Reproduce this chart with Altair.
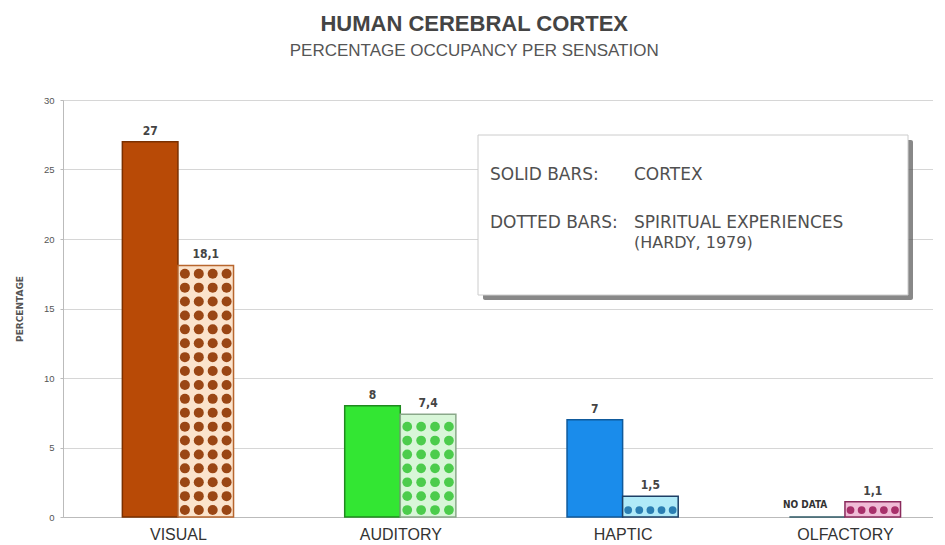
import altair as alt
import pandas as pd

# ---- data ----
categories = ["VISUAL", "AUDITORY", "HAPTIC", "OLFACTORY"]
cortex = [27, 8, 7, None]          # solid bars (None = no data)
spiritual = [18.1, 7.4, 1.5, 1.1]  # dotted bars (Hardy, 1979)
y_ticks = [0, 5, 10, 15, 20, 25, 30]

# ---- styles ----
solid_fill = ["#b84a06", "#33e633", "#1a8ceb", "#2f5a66"]
solid_stroke = ["#7a3000", "#1f8a1f", "#0f5a9c", "#2f5a66"]
dot_bg = ["#fbe3cc", "#d8f6d8", "#b0eaf8", "#f0bcd6"]
dot_fg = ["#9a4614", "#4ccc4c", "#2b7fb3", "#a8306a"]
dot_stroke = ["#b8662e", "#8aa88a", "#1d3f66", "#8a2a5c"]
dot_cols = [4, 4, 5, 5]
dot_size = [100, 95, 60, 60]
BW = 0.25  # bar width in category units


def fmt(v):
    if v is None:
        return "NO DATA"
    s = f"{v:g}"
    return s.replace(".", ",")


bars = []
for i, c in enumerate(categories):
    v = cortex[i]
    bars.append(dict(cat=c, x0=i - BW, x1=i, xm=i - BW / 2, v=0 if v is None else v,
                     zero=0, fill=solid_fill[i], stroke=solid_stroke[i],
                     label=fmt(v), nodata=v is None))
    s = spiritual[i]
    bars.append(dict(cat=c, x0=i, x1=i + BW, xm=i + BW / 2, v=s, zero=0,
                     fill=dot_bg[i], stroke=dot_stroke[i], label=fmt(s), nodata=False))
bars = pd.DataFrame(bars)

dots = []
for i, s in enumerate(spiritual):
    n = dot_cols[i]
    rows = max(1, int(s))
    for r in range(rows):
        for j in range(n):
            dots.append(dict(x=i + (j + 0.5) * BW / n, y=r + 0.5,
                             col=dot_fg[i], size=dot_size[i]))
dots = pd.DataFrame(dots)

label_expr = "[" + ",".join(f"'{c}'" for c in categories) + "][datum.value]"

xscale = alt.Scale(domain=[-0.517, 3.396], nice=False, zero=False)
yscale = alt.Scale(domain=[0, 30], nice=False)

base = alt.Chart(bars)

rects = base.mark_rect(strokeWidth=1.5).encode(
    x=alt.X("x0:Q", scale=xscale, title=None,
            axis=alt.Axis(values=list(range(len(categories))), labelExpr=label_expr,
                          grid=False, ticks=False, labelFontSize=16,
                          labelFont="Liberation Sans", labelColor="#333",
                          labelPadding=9, domainColor="#bbbbbb")),
    x2="x1:Q",
    y=alt.Y("v:Q", scale=yscale, title="PERCENTAGE",
            axis=alt.Axis(values=y_ticks, grid=True, gridColor="#d6d6d6",
                          labelFontSize=9.5, labelColor="#555", labelPadding=6,
                          tickSize=3, tickColor="#bbbbbb", domainColor="#bbbbbb",
                          titleFontSize=9, titleFont="DejaVu Sans", titleFontWeight="bold",
                          titleColor="#555", titlePadding=19)),
    y2="zero:Q",
    fill=alt.Fill("fill:N", scale=None),
    stroke=alt.Stroke("stroke:N", scale=None),
)

dot_layer = alt.Chart(dots).mark_point(filled=True, shape="circle", opacity=1).encode(
    x=alt.X("x:Q", scale=xscale),
    y=alt.Y("y:Q", scale=yscale),
    color=alt.Color("col:N", scale=None),
    size=alt.Size("size:Q", scale=None),
)

values = base.transform_filter("!datum.nodata").mark_text(
    baseline="bottom", dy=-4, fontSize=12, fontWeight="bold",
    font="DejaVu Sans Condensed", color="#444").encode(
    x="xm:Q", y="v:Q", text="label:N")

nodata = base.transform_filter("datum.nodata").mark_text(
    baseline="bottom", dy=-7, dx=-12, fontSize=10, fontWeight="bold",
    font="DejaVu Sans Condensed", color="#333").encode(
    x="xm:Q", y="v:Q", text="label:N")

one = alt.Chart(pd.DataFrame({"a": [0]}))
shadow = one.mark_rect(fill="#555555", opacity=0.7, cornerRadius=2).encode(
    x=alt.value(420), x2=alt.value(850), y=alt.value(40), y2=alt.value(200))
box = one.mark_rect(fill="white", stroke="#cccccc", strokeWidth=1).encode(
    x=alt.value(415), x2=alt.value(845), y=alt.value(35), y2=alt.value(195))

def legend_text(txt, x, y, size=17):
    return one.mark_text(text=txt, align="left", baseline="middle", fontSize=size,
                         font="DejaVu Sans", color="#505050").encode(
        x=alt.value(x), y=alt.value(y))

legend = [
    legend_text("SOLID BARS:", 427, 75),
    legend_text("CORTEX", 571, 75),
    legend_text("DOTTED BARS:", 427, 123),
    legend_text("SPIRITUAL EXPERIENCES", 571, 123),
    legend_text("(HARDY, 1979)", 571, 143, 16),
]

chart = alt.layer(rects, dot_layer, values, nodata, shadow, box, *legend).properties(
    width=870, height=417,
    padding={"left": 7, "top": 5, "right": 0, "bottom": 0},
    title=alt.TitleParams(
        text="HUMAN CEREBRAL CORTEX", subtitle="PERCENTAGE OCCUPANCY PER SENSATION",
        anchor="middle", frame="bounds", font="Liberation Sans", fontSize=22,
        fontWeight="bold", color="#444", subtitleFont="Liberation Sans",
        subtitleFontSize=17, subtitleColor="#555", subtitlePadding=7, offset=35),
).configure_view(stroke=None).configure(background="white")

chart.save("out.html", embed_options={"renderer": "svg", "actions": False})
